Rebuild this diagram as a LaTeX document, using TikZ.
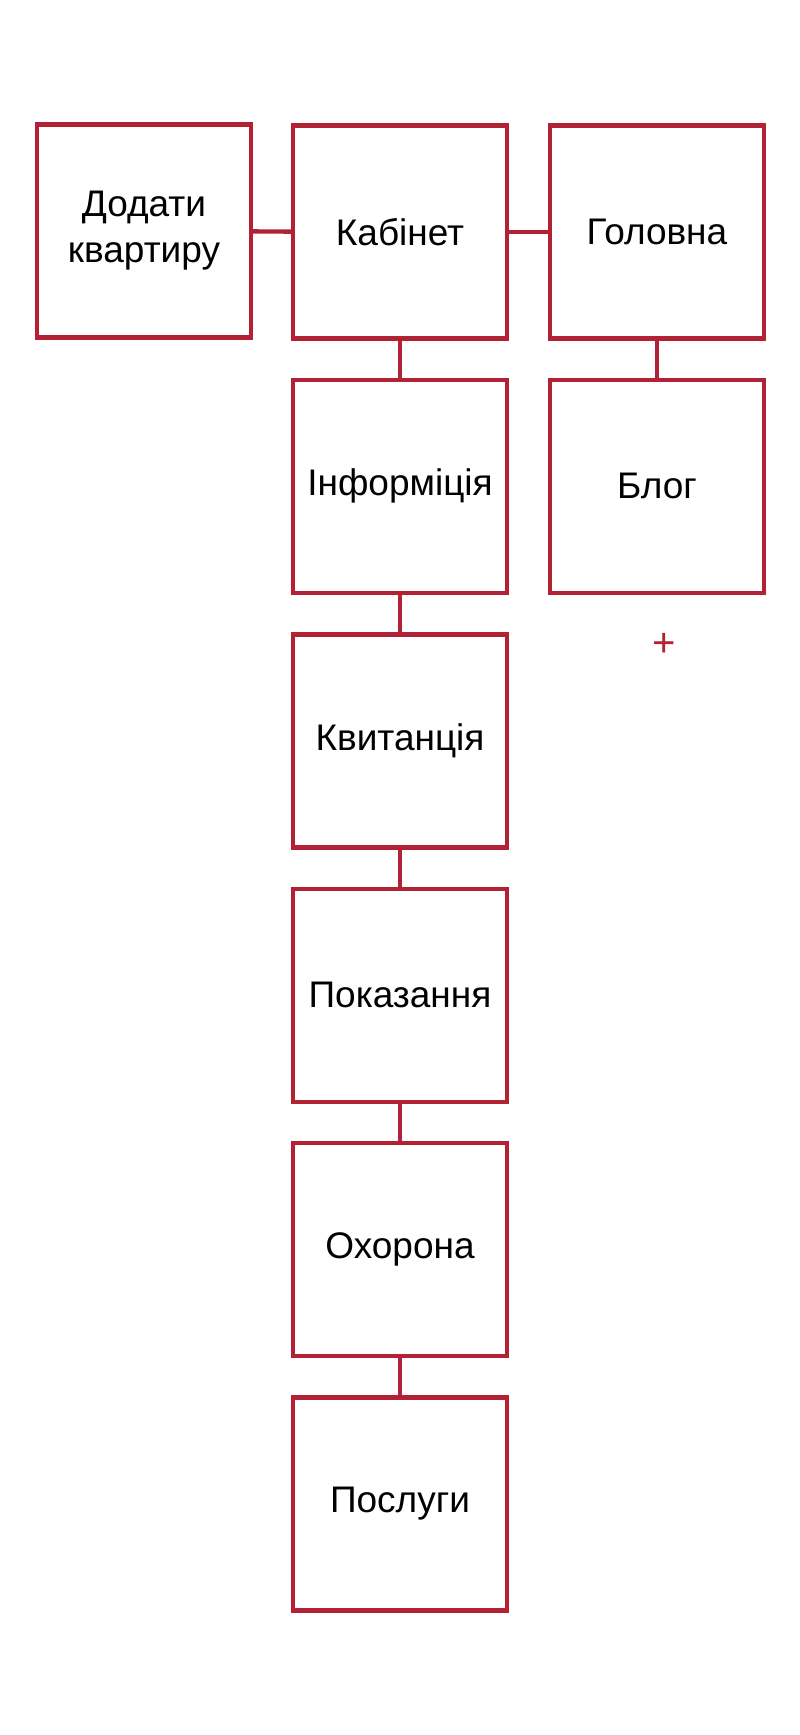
\documentclass[tikz,border=0pt]{standalone}
\usepackage{fontspec}
\setmainfont{Liberation Sans}
\usetikzlibrary{positioning}
\definecolor{boxred}{RGB}{178,34,52}
\tikzset{
  page/.style={x=1pt, y=-1pt},
  pagebox/.style={draw=boxred, line width=4.4pt, minimum width=214pt, minimum height=213pt,
    inner sep=0pt, align=center, font=\fontsize{37}{46}\selectfont},
  link/.style={draw=boxred, line width=4.4pt}
}
\begin{document}
\begin{tikzpicture}[page]
  \useasboundingbox (0,0) rectangle (800,1735);
  % top row
  \node[pagebox] (kabinet) at (400,232) {Кабінет};
  \node[pagebox] (dodaty) at (144,231) {Додати\\квартиру};
  \node[pagebox] (golovna) at (657,232) {Головна};
  \node[pagebox, below = 37pt of golovna] (blog) {Блог};
  % cabinet column
  \node[pagebox, below = 37pt of kabinet] (info) {Інформіція};
  \node[pagebox, below = 37pt of info] (kvyt) {Квитанція};
  \node[pagebox, below = 37pt of kvyt] (pokaz) {Показання};
  \node[pagebox, below = 37pt of pokaz] (okhor) {Охорона};
  \node[pagebox, below = 37pt of okhor] (poslugy) {Послуги};
  \node[text=boxred, font=\fontsize{40}{40}\selectfont] (plus) at (664,645) {+};

  \draw[link] (dodaty) -- (kabinet);
  \draw[link] (kabinet) -- (golovna);
  \draw[link] (golovna) -- (blog);
  \draw[link] (kabinet) -- (info);
  \draw[link] (info) -- (kvyt);
  \draw[link] (kvyt) -- (pokaz);
  \draw[link] (pokaz) -- (okhor);
  \draw[link] (okhor) -- (poslugy);
\end{tikzpicture}
\end{document}
